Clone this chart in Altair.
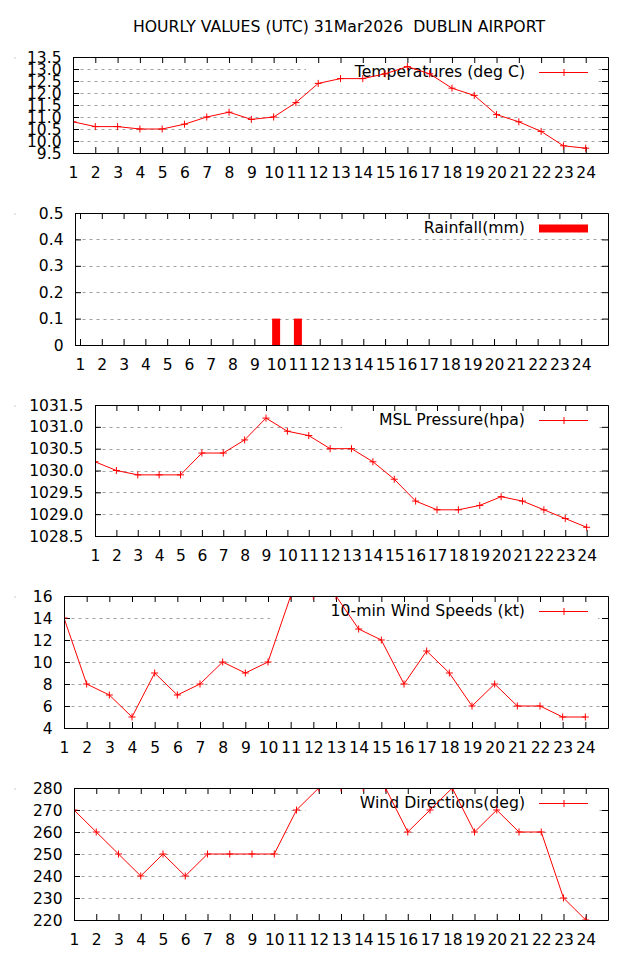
import altair as alt
import pandas as pd

# ---------------- data ----------------
hours = list(range(1, 25))
temperature = [10.8, 10.6, 10.6, 10.5, 10.5, 10.7, 11.0, 11.2, 10.9, 11.0, 11.6, 12.4,
               12.6, 12.6, 12.8, 13.1, 12.8, 12.2, 11.9, 11.1, 10.8, 10.4, 9.8, 9.7]
rainfall = [0, 0, 0, 0, 0, 0, 0, 0, 0, 0.1, 0.1, 0,
            0, 0, 0, 0, 0, 0, 0, 0, 0, 0, 0, 0]
pressure = [1030.2, 1030.0, 1029.9, 1029.9, 1029.9, 1030.4, 1030.4, 1030.7, 1031.2, 1030.9, 1030.8, 1030.5,
            1030.5, 1030.2, 1029.8, 1029.3, 1029.1, 1029.1, 1029.2, 1029.4, 1029.3, 1029.1, 1028.9, 1028.7]
wind_speed = [14, 8, 7, 5, 9, 7, 8, 10, 9, 10, 16, 16,
              16, 13, 12, 8, 11, 9, 6, 8, 6, 6, 5, 5]
wind_dir = [270, 260, 250, 240, 250, 240, 250, 250, 250, 250, 270, 280,
            280, 280, 280, 260, 270, 280, 260, 270, 260, 260, 230, 220]

temp_ticks = [9.5, 10.0, 10.5, 11.0, 11.5, 12.0, 12.5, 13.0, 13.5]
rain_ticks = [0, 0.1, 0.2, 0.3, 0.4, 0.5]
press_ticks = [1028.5, 1029.0, 1029.5, 1030.0, 1030.5, 1031.0, 1031.5]
speed_ticks = [4, 6, 8, 10, 12, 14, 16]
dir_ticks = [220, 230, 240, 250, 260, 270, 280]

title_text = "HOURLY VALUES (UTC) 31Mar2026 \u00a0DUBLIN AIRPORT"
legend_titles = ["Temperatures (deg C)", "Rainfall(mm)", "MSL Pressure(hpa)",
                 "10-min Wind Speeds (kt)", "Wind Directions(deg)"]

FONT = "DejaVu Sans"
RIGHT = 605
RED = "#ff0000"
PLUS = "M-1,0L1,0M0,-1L0,1"
TOP_EXT = 16
BOTTOM_EXT = 42


def anchor(x, x2, y, y2):
    return alt.Chart(pd.DataFrame({"k": [0]})).mark_rect(fill="white", opacity=1).encode(
        x=alt.value(x), x2=alt.value(x2), y=alt.value(y), y2=alt.value(y2))


def build(values, ticks, fmt, legend_text, left, height, bars=False, title=None):
    w = RIGHT - left
    df = pd.DataFrame({"hour": hours, "value": values})
    tdf = pd.DataFrame({"t": ticks})
    hdf = pd.DataFrame({"hour": hours})
    one = pd.DataFrame({"k": [0]})

    xs = alt.Scale(domain=[1, 25], nice=False, zero=False)
    ys = alt.Scale(domain=[ticks[0], ticks[-1]], nice=False, zero=False)
    xaxis = alt.Axis(values=hours, format="d", title=None, grid=False, ticks=False, tickSize=0,
                     domain=False, labelPadding=12, labelFontSize=15.5, labelFont=FONT,
                     labelColor="black", labelOverlap=False, labelFlush=False, labelBound=False)
    yaxis = alt.Axis(values=ticks, format=fmt, title=None, grid=True, gridDash=[3, 4],
                     gridColor="#a0a0a0", gridWidth=1, ticks=False, tickSize=0, domain=False,
                     labelPadding=12, labelFontSize=15.5, labelFont=FONT, labelColor="black",
                     labelOverlap=False, labelFlush=False, labelBound=False)

    def X(f):
        return alt.X(f"{f}:Q", scale=xs, axis=xaxis)

    def Y(f):
        return alt.Y(f"{f}:Q", scale=ys, axis=yaxis)

    layers = []
    E = left - 14
    layers.append(anchor(-E, -E + 1, 0, 1))
    top_ext = 43 if title else TOP_EXT
    layers.append(anchor(0, 1, -top_ext, -top_ext + 1))
    layers.append(anchor(0, 1, height + BOTTOM_EXT - 1, height + BOTTOM_EXT))

    if title:
        layers.append(alt.Chart(one).mark_text(font=FONT, fontSize=15.7, color="black",
                                               align="center", baseline="middle").encode(
            x=alt.value(336 - left), y=alt.value(-30), text=alt.value(title)))

    # opaque key box
    n = len(legend_text)
    layers.append(alt.Chart(one).mark_rect(fill="white").encode(
        x=alt.value(543 - 12 * n - left), x2=alt.value(w - 10), y=alt.value(5), y2=alt.value(25)))
    layers.append(alt.Chart(one).mark_text(font=FONT, fontSize=15.7, color="black",
                                           align="right", baseline="middle").encode(
        x=alt.value(w - 83), y=alt.value(15), text=alt.value(legend_text)))

    # inward ticks
    layers.append(alt.Chart(hdf).mark_rule(color="black", strokeWidth=1, xOffset=0.5).encode(
        x=X("hour"), y=alt.value(0), y2=alt.value(6)))
    layers.append(alt.Chart(hdf).mark_rule(color="black", strokeWidth=1, xOffset=0.5).encode(
        x=X("hour"), y=alt.value(height - 6), y2=alt.value(height)))
    layers.append(alt.Chart(tdf).mark_rule(color="black", strokeWidth=1, yOffset=0.5).encode(
        y=Y("t"), x=alt.value(0), x2=alt.value(6)))
    layers.append(alt.Chart(tdf).mark_rule(color="black", strokeWidth=1, yOffset=0.5).encode(
        y=Y("t"), x=alt.value(w - 6), x2=alt.value(w)))

    # data
    if bars:
        layers.append(alt.Chart(one).mark_rect(fill=RED).encode(
            x=alt.value(w - 69), x2=alt.value(w - 20), y=alt.value(11.5), y2=alt.value(19.5)))
        layers.append(alt.Chart(df).mark_bar(size=8, color=RED, clip=True).encode(
            x=X("hour"), y=Y("value")))
    else:
        layers.append(alt.Chart(one).mark_rule(color=RED, strokeWidth=1).encode(
            x=alt.value(w - 69), x2=alt.value(w - 20), y=alt.value(15.5)))
        layers.append(alt.Chart(one).mark_point(shape=PLUS, size=49, filled=False, color=RED,
                                                strokeWidth=1, opacity=1).encode(
            x=alt.value(w - 44), y=alt.value(15.5)))
        layers.append(alt.Chart(df).mark_line(color=RED, strokeWidth=1, clip=True).encode(
            x=X("hour"), y=Y("value")))
        layers.append(alt.Chart(df).mark_point(shape=PLUS, size=49, filled=False, color=RED,
                                               strokeWidth=1, opacity=1, clip=True).encode(
            x=X("hour"), y=Y("value")))

    # frame
    layers.append(alt.Chart(one).mark_rect(fill=None, stroke="black", strokeWidth=1).encode(
        x=alt.value(0.5), x2=alt.value(w + 0.5), y=alt.value(0.5), y2=alt.value(height + 0.5)))

    panel = alt.layer(*layers).properties(width=w, height=height)
    spacer = alt.Chart(one).mark_rect(opacity=0).encode(
        x=alt.value(0), x2=alt.value(1), y=alt.value(0), y2=alt.value(1)).properties(width=1, height=1)
    return alt.hconcat(spacer, panel, spacing=0)


rows = [
    build(temperature, temp_ticks, ".1f", legend_titles[0], 70, 96, title=title_text),
    build(rainfall, rain_ticks, "~g", legend_titles[1], 72, 132, bars=True),
    build(pressure, press_ticks, ".1f", legend_titles[2], 92, 131),
    build(wind_speed, speed_ticks, "d", legend_titles[3], 61, 132),
    build(wind_dir, dir_ticks, "d", legend_titles[4], 71, 132),
]

chart = alt.vconcat(*rows, spacing=0).properties(
    padding={"left": 5, "top": 5, "right": 5, "bottom": 5}
).configure_view(strokeWidth=0).configure(font=FONT)

chart.save("out.html", embed_options={"renderer": "svg", "actions": False})
